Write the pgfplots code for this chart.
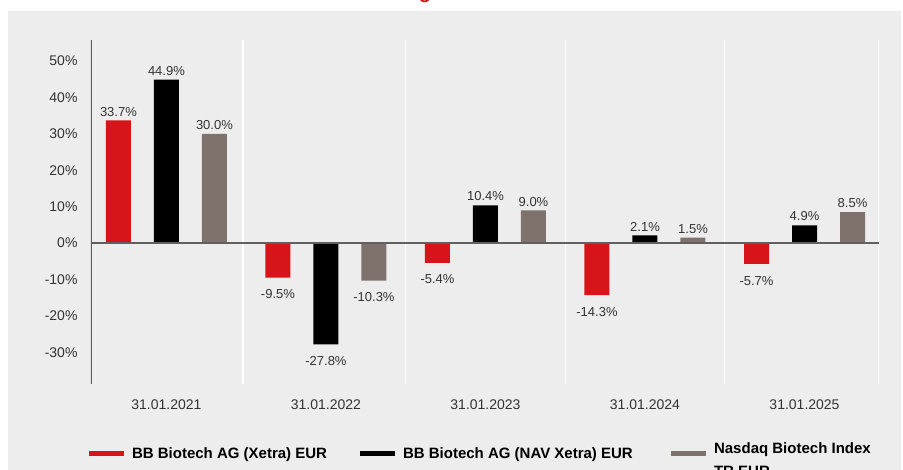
\documentclass[border=0pt]{standalone}
\usepackage{pgfplots}
\pgfplotsset{compat=1.18}
\usepackage{fontspec}
\setmainfont{Liberation Sans}
\definecolor{bbred}{HTML}{D7141A}
\definecolor{bbgray}{HTML}{7F716C}
\definecolor{panel}{HTML}{EDEDED}
\definecolor{txt}{HTML}{333333}
\definecolor{axline}{HTML}{606060}
\begin{document}
\begin{tikzpicture}
\path[use as bounding box] (0,0) rectangle (903pt,470pt);
\clip (0,0) rectangle (903pt,470pt);
\fill[panel] (8pt,0pt) rectangle (901pt,459pt);
\node[text=bbred, font=\bfseries\fontsize{20}{24}\selectfont, anchor=base, inner sep=0pt] at (425pt,471pt) {g};
\begin{axis}[
 at={(91pt,86pt)}, anchor=south west,
 scale only axis, width=788pt, height=344pt,
 xmin=-0.473, xmax=4.467, ymin=-38.7, ymax=55.8,
 ybar=23pt, bar width=25pt,
 axis line style={draw=none},
 xtick={0,1,2,3,4},
 xticklabels={31.01.2021,31.01.2022,31.01.2023,31.01.2024,31.01.2025},
 ytick={-30,-20,...,50},
 yticklabel={\pgfmathprintnumber{\tick}\%},
 major tick length=0pt,
 tick style={draw=none},
 /pgf/number format/assume math mode=true,
 ticklabel style={text=txt, font=\fontsize{14}{16}\selectfont},
 yticklabel style={xshift=-10pt},
 xticklabel style={yshift=-12pt},
 nodes near coords={\pgfmathprintnumber[fixed,fixed zerofill,precision=1]{\pgfplotspointmeta}\%},
 every node near coord/.append style={text=txt, font=\fontsize{13}{15}\selectfont, inner ysep=4pt, text height=17pt},
 legend style={draw=none, fill=none, at={(-0.0065,-0.154)}, anchor=north west,
   font=\bfseries\fontsize{15}{17}\selectfont, text=black,
   /tikz/every even column/.append style={column sep=0pt}},
 legend columns=3,
 legend cell align=left,
 legend image code/.code={\fill[#1,draw=none] (0pt,-2.3pt) rectangle (35pt,2.3pt);},
]
\pgfplotsinvokeforeach{0.48,1.5,2.5,3.5,4.467}{\draw[white, line width=1.2pt] (#1,-38.7) -- (#1,55.8);}
\draw[axline, line width=1.3pt] (-0.473,-38.7) -- (-0.473,55.8);
\addplot[fill=bbred, draw=none] coordinates {(0,33.7) (1,-9.5) (2,-5.4) (3,-14.3) (4,-5.7)};
\addlegendentry{\makebox[232pt][l]{\hspace{6pt}BB Biotech AG (Xetra) EUR}}
\addplot[fill=black, draw=none] coordinates {(0,44.9) (1,-27.8) (2,10.4) (3,2.1) (4,4.9)};
\addlegendentry{\makebox[272pt][l]{\hspace{6pt}BB Biotech AG (NAV Xetra) EUR}}
\addplot[fill=bbgray, draw=none] coordinates {(0,30.0) (1,-10.3) (2,9.0) (3,1.5) (4,8.5)};
\addlegendentry{\hspace{6pt}\begin{tabular}{@{}l@{}}Nasdaq Biotech Index\\[6pt]TR EUR\end{tabular}}
\draw[axline, line width=1.3pt] (-0.473,0) -- (4.467,0);
\end{axis}
\end{tikzpicture}
\end{document}
